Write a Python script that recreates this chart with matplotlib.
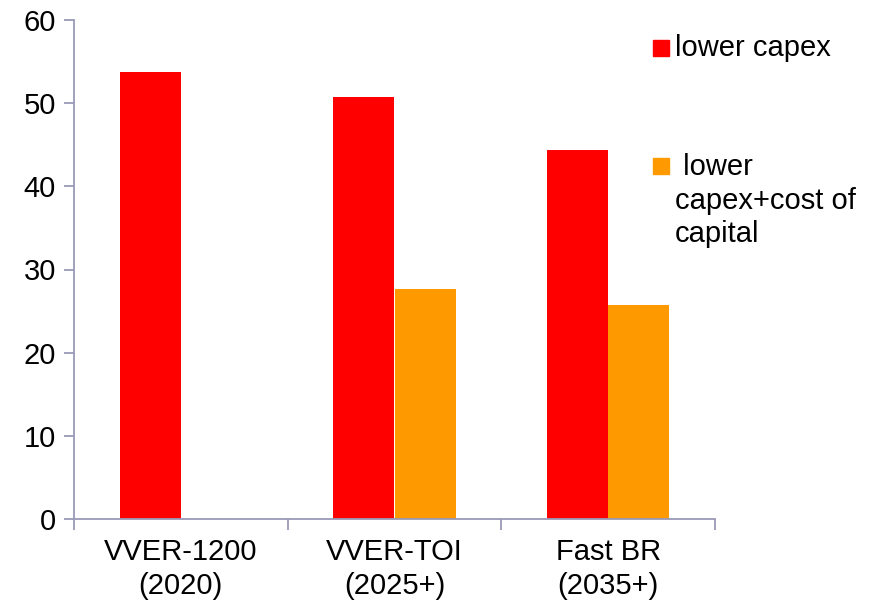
import numpy as np
import matplotlib.pyplot as plt
from matplotlib.patches import Rectangle

categories = ["VVER-1200\n(2020)", "VVER-TOI\n(2025+)", "Fast BR\n(2035+)"]
lower_capex = [53.8, 50.8, 44.4]
capex_cost_capital = [np.nan, 27.6, 25.7]
series_labels = ["lower capex", " lower\ncapex+cost of\ncapital"]
series_colors = ["#ff0000", "#ff9900"]

plt.rcParams['font.family'] = ['Liberation Sans', 'DejaVu Sans']
plt.rcParams['font.size'] = 21

W, H = 875, 605
fig = plt.figure(figsize=(W / 100, H / 100), dpi=100)
ax = fig.add_axes([74 / W, 1 - 519 / H, 641 / W, 499 / H])

x = np.arange(len(categories))
w = 0.287
ax.bar(x - w / 2, lower_capex, w, color=series_colors[0])
ax.bar(x + w / 2, capex_cost_capital, w, color=series_colors[1])

axis_col = "#9a9ab8"
ax.set_ylim(0, 60)
ax.set_yticks(range(0, 61, 10))
ax.set_xlim(-0.5, 2.5)
ax.set_xticks(x)
ax.set_xticklabels(categories, linespacing=1.26)
ax.set_xticks([-0.5, 0.5, 1.5, 2.5], minor=True)
ax.tick_params(axis='x', which='major', length=0, pad=14)
ax.tick_params(axis='x', which='minor', length=8, color=axis_col, width=1.3, direction='out')
ax.tick_params(axis='y', length=7, color=axis_col, width=1.3, direction='out', pad=6)

for s in ["top", "right"]:
    ax.spines[s].set_visible(False)
for s in ["left", "bottom"]:
    ax.spines[s].set_color(axis_col)
    ax.spines[s].set_linewidth(1.3)

# legend drawn by hand: squares beside the first line of each label
line_h = 33
leg_tops = [40, 158]
leg_base = [56.5, 176.5]
for col, lab, top, base in zip(series_colors, series_labels, leg_tops, leg_base):
    fig.add_artist(Rectangle((653 / W, 1 - (top + 15.5) / H), 15.5 / W, 15.5 / H,
                             transform=fig.transFigure, color=col))
    last_base = base + line_h * lab.count("\n")
    fig.text(675 / W, 1 - last_base / H, lab, ha='left', va='baseline', linespacing=1.26)

plt.savefig("out.png", dpi=100)
